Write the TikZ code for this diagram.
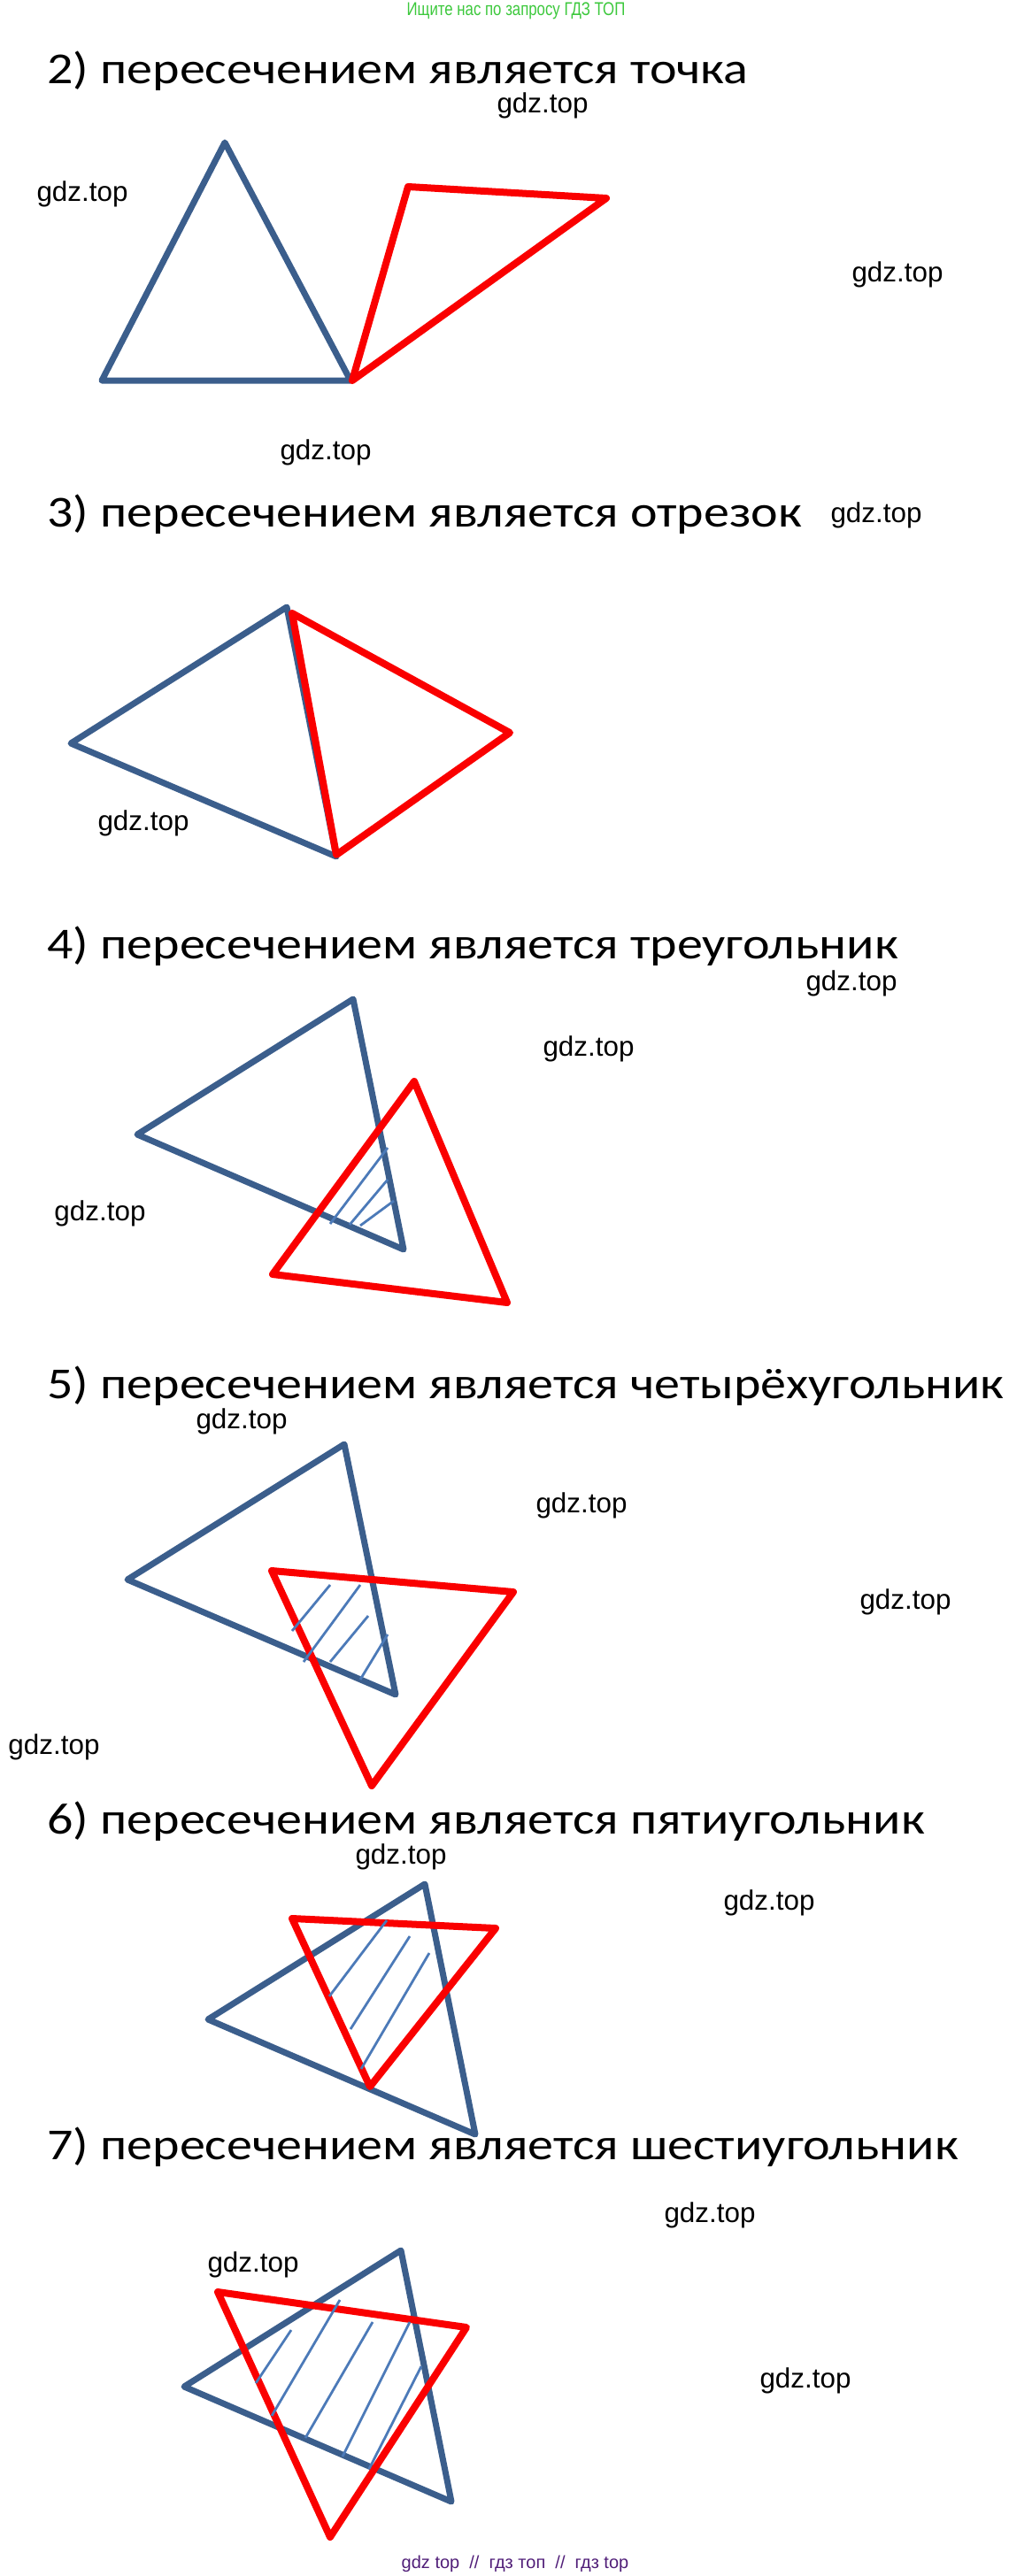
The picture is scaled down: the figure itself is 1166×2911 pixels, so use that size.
\documentclass[tikz,border=0pt]{standalone}
\usepackage{fontspec}
\setmainfont{Liberation Sans}
\newfontfamily\headfont[FakeStretch=1.16]{Carlito}
\newfontfamily\adfont[FakeStretch=0.8]{Liberation Sans}
\usepackage{tikz}
\definecolor{triblue}{RGB}{59,94,140}
\definecolor{hatchblue}{RGB}{76,122,184}
\definecolor{trired}{RGB}{250,0,0}
\definecolor{adgreen}{RGB}{60,200,60}
\definecolor{adpurple}{RGB}{80,30,120}
\tikzset{
  bluetri/.style={draw=triblue, line width=3.5pt, line join=round},
  redtri/.style={draw=trired, line width=4pt, line join=round},
  hatch/.style={draw=hatchblue, line width=1.4pt},
  heading/.style={anchor=base west, inner sep=0pt, font=\headfont\fontsize{25}{29}\selectfont},
  wmark/.style={inner sep=0pt, font=\fontsize{15.7}{18}\selectfont}
}

\begin{document}
\begin{tikzpicture}[x=0.5pt, y=-0.5pt]
\useasboundingbox (0,0) rectangle (1166,2911);
%%%%% Captions %%%%%
\node[inner sep=0pt, text=adgreen, font=\adfont\fontsize{10.5}{12}\selectfont] (adtop) at (583,12) {Ищите нас по запросу ГДЗ ТОП};
\node[inner sep=0pt, text=adpurple, font=\fontsize{10}{12}\selectfont] (adbottom) at (582,2897) {gdz top\ \ //\ \ гдз топ\ \ //\ \ гдз top};
\node[heading] (h2) at (53,95) {2) пересечением является точка};
\node[heading] (h3) at (53,595) {3) пересечением является отрезок};
\node[heading] (h4) at (53,1083) {4) пересечением является треугольник};
\node[heading] (h5) at (53,1580) {5) пересечением является четырёхугольник};
\node[heading] (h6) at (53,2072) {6) пересечением является пятиугольник};
\node[heading] (h7) at (53,2440) {7) пересечением является шестиугольник};
%%%%% Watermarks %%%%%
\foreach \i/\x/\y in {a/613/119, b/93/219, c/1014/310, d/368/511, e/990/582, f/162/930,
  g/962/1111, h/665/1185, k/113/1371, l/273/1606, m/657/1701, n/1023/1810, o/61/1974,
  p/453/2098, q/869/2150, r/802/2503, s/286/2559, t/910/2690}{
\node[wmark] (w\i) at (\x,\y) {gdz.top};
}
%%%%% 2) point %%%%%
\coordinate (B2a) at (254,161); \coordinate (B2b) at (115,430); \coordinate (B2c) at (396,430);
\coordinate (R2a) at (461,211); \coordinate (R2b) at (685,224); \coordinate (R2c) at (398,430);
\draw[bluetri] (B2a)--(B2b)--(B2c)--cycle;
\draw[redtri] (R2a)--(R2b)--(R2c)--cycle;
%%%%% 3) segment %%%%%
\coordinate (B3a) at (324,686); \coordinate (B3b) at (80,840); \coordinate (B3c) at (380,968);
\coordinate (R3a) at (330,693); \coordinate (R3b) at (576,828); \coordinate (R3c) at (380,966);
\draw[bluetri] (B3a)--(B3b)--(B3c)--cycle;
\draw[redtri] (R3a)--(R3b)--(R3c)--cycle;
%%%%% 4) triangle %%%%%
\coordinate (B4a) at (399,1129); \coordinate (B4b) at (155,1282); \coordinate (B4c) at (456,1412);
\coordinate (R4a) at (468,1222); \coordinate (R4b) at (573,1472); \coordinate (R4c) at (308,1440);
\draw[bluetri] (B4a)--(B4b)--(B4c)--cycle;
\draw[redtri] (R4a)--(R4b)--(R4c)--cycle;
\foreach \xa/\ya/\xb/\yb in {373/1383/438/1297, 395/1384/438/1333, 407/1385/445/1357}{
\draw[hatch] (\xa,\ya)--(\xb,\yb);
}
%%%%% 5) quadrilateral %%%%%
\coordinate (B5a) at (389,1632); \coordinate (B5b) at (144,1785); \coordinate (B5c) at (447,1915);
\coordinate (R5a) at (307,1775); \coordinate (R5b) at (580,1799); \coordinate (R5c) at (420,2018);
\draw[bluetri] (B5a)--(B5b)--(B5c)--cycle;
\draw[redtri] (R5a)--(R5b)--(R5c)--cycle;
\foreach \xa/\ya/\xb/\yb in {330/1843/373/1791, 343/1878/407/1791, 373/1878/416/1826, 407/1898/438/1847}{
\draw[hatch] (\xa,\ya)--(\xb,\yb);
}
%%%%% 6) pentagon %%%%%
\coordinate (B6a) at (480,2129); \coordinate (B6b) at (235,2282); \coordinate (B6c) at (537,2412);
\coordinate (R6a) at (330,2168); \coordinate (R6b) at (560,2179); \coordinate (R6c) at (418,2358);
\draw[bluetri] (B6a)--(B6b)--(B6c)--cycle;
\draw[redtri] (R6a)--(R6b)--(R6c)--cycle;
\foreach \xa/\ya/\xb/\yb in {372/2256/437/2170, 396/2293/463/2188, 408/2338/485/2207}{
\draw[hatch] (\xa,\ya)--(\xb,\yb);
}
%%%%% 7) hexagon %%%%%
\coordinate (B7a) at (453,2543); \coordinate (B7b) at (208,2697); \coordinate (B7c) at (510,2827);
\coordinate (R7a) at (246,2590); \coordinate (R7b) at (527,2630); \coordinate (R7c) at (373,2867);
\draw[bluetri] (B7a)--(B7b)--(B7c)--cycle;
\draw[redtri] (R7a)--(R7b)--(R7c)--cycle;
\foreach \xa/\ya/\xb/\yb in {289/2693/329/2633, 307/2730/384/2599, 345/2755/421/2624, 387/2776/463/2624, 417/2790/476/2674}{
\draw[hatch] (\xa,\ya)--(\xb,\yb);
}
\end{tikzpicture}
\end{document}
